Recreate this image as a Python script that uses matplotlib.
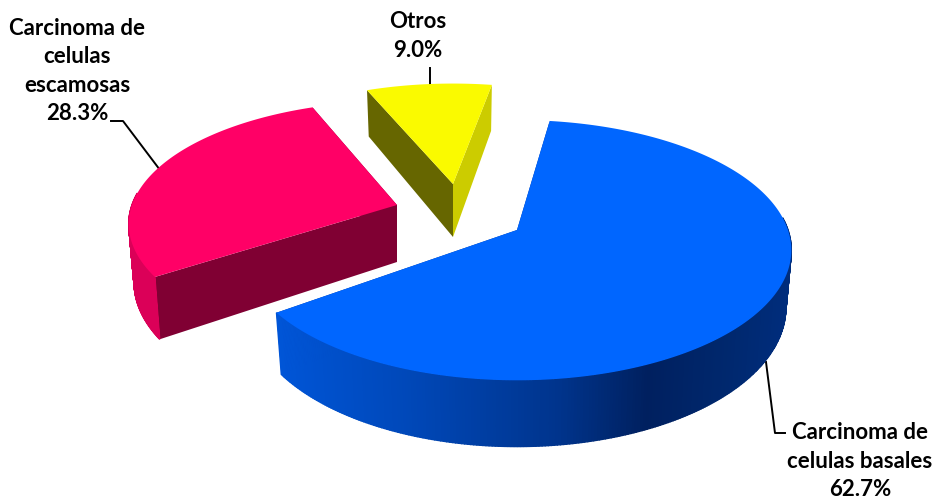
import numpy as np
import matplotlib
matplotlib.use('Agg')
import matplotlib.pyplot as plt
from matplotlib.patches import Polygon

plt.rcParams['font.family'] = ['Lato', 'DejaVu Sans']

labels = ['Carcinoma de\ncelulas basales\n62.7%', 'Carcinoma de\ncelulas\nescamosas\n28.3%', 'Otros\n9.0%']
shares = [62.7, 28.3, 9.0]
top_colors = ['#0066FF', '#FF0066', '#FAFA00']
rim_colors = [None, '#DB0058', '#CCCC00']
# face at the start of the slice, then face at its end
cut_start_colors = ['#003399', '#800033', '#666600']
cut_end_colors = ['#003399', '#800033', '#CCCC00']

# where each slice's tip sits on the image, pixels
apex_x = [517, 397, 453]
apex_y = [230, 205, 184]
radius_x = [271, 265, 258]
radius_y = [127, 120, 116]
depth = [56, 57, 53]
rotate = [0, 3, 2]
perspective = 0.155
taper = 0.98  # bottom edge of the walls pulls in a little
start_angle = 8

# side shading of the big slice, left to right across its width
shade_pos = [0.0, 0.25, 0.55, 0.72, 0.88, 1.0]
shade_rgb = [(0, 85, 215), (0, 72, 185), (0, 52, 140), (0, 32, 95), (0, 40, 110), (0, 45, 125)]


def project(i, theta):
    u = np.sin(np.radians(theta))
    v = np.cos(np.radians(theta))
    s = 1 / (1 + perspective * v)
    x = apex_x[i] + radius_x[i] * u * s
    y = apex_y[i] - radius_y[i] * v * s
    return x, y, depth[i] * s


fig = plt.figure(figsize=(9.36, 5.0), dpi=100)
ax = fig.add_axes([0, 0, 1, 1])
ax.set_xlim(0, 936)
ax.set_ylim(500, 0)
ax.axis('off')

edges = start_angle + np.concatenate([[0], np.cumsum(shares)]) * 3.6

for i in [2, 1, 0]:
    th = np.linspace(edges[i], edges[i + 1], 400) + rotate[i]
    x, y, d = project(i, th)
    xb = apex_x[i] + (x - apex_x[i]) * taper
    ax_, ay, ad = apex_x[i], apex_y[i], depth[i]

    # cut faces
    ax.add_patch(Polygon([(ax_, ay), (x[0], y[0]), (xb[0], y[0] + d[0]), (ax_, ay + ad)],
                         fc=cut_start_colors[i], ec='none', zorder=1))
    ax.add_patch(Polygon([(ax_, ay), (x[-1], y[-1]), (xb[-1], y[-1] + d[-1]), (ax_, ay + ad)],
                         fc=cut_end_colors[i], ec='none', zorder=2))

    # outer wall, front half only
    for j in range(len(th) - 1):
        if np.cos(np.radians(th[j])) > 0.1:
            continue
        if rim_colors[i] is None:
            pos = (0.5 * (x[j] + x[j + 1]) - x.min()) / (x.max() - x.min())
            rgb = [np.interp(pos, shade_pos, [c[k] for c in shade_rgb]) / 255 for k in range(3)]
        else:
            rgb = rim_colors[i]
        ax.add_patch(Polygon([(x[j], y[j]), (x[j + 1], y[j + 1]),
                              (xb[j + 1], y[j + 1] + d[j + 1]), (xb[j], y[j] + d[j])],
                             fc=rgb, ec=rgb, lw=1.0, zorder=3))

    # top
    ax.add_patch(Polygon(np.column_stack([np.r_[ax_, x], np.r_[ay, y]]),
                         fc=top_colors[i], ec='none', zorder=4))

# leader lines
ax.plot([766, 775, 785], [362, 433, 433], color='black', lw=1.4, zorder=0)
ax.plot([160, 123, 111], [170, 121, 121], color='black', lw=1.4, zorder=0)
ax.plot([430, 430], [68, 85], color='black', lw=1.4, zorder=0)

text_style = dict(ha='center', va='center', fontsize=16, fontweight='bold', linespacing=1.45, color='black')
ax.text(860, 461, labels[0], **text_style)
ax.text(77, 71, labels[1], **text_style)
ax.text(418, 36, labels[2], **text_style)

fig.savefig('out.png', dpi=100)
